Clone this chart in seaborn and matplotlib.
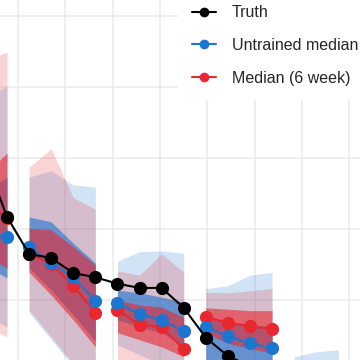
import numpy as np
import pandas as pd
import matplotlib
matplotlib.use("Agg")
import matplotlib.pyplot as plt
from matplotlib.lines import Line2D
import seaborn as sns

# observed values, one per week
truth_week = list(range(-1, 13))
truth = [301, 217, 165, 159, 138, 132, 123, 117, 117, 89, 47, 21, 7, -5]

# forecasts: one run of 4 (or fewer) horizons per group
fc_week = [-1, 0, 1, 2, 3, 4, 5, 6, 7, 8, 9, 10, 11, 12, 13, 14, 15]
fc_group = ['A', 'A', 'B', 'B', 'B', 'B', 'C', 'C', 'C', 'C',
            'D', 'D', 'D', 'D', 'E', 'E', 'E']

blue_median = [195, 189, 175, 152, 132, 99, 96, 80, 72, 56, 62, 49, 39, 32, -30, -35, -40]
blue_lo50 = [149, 131, 145, 114, 79, 42, 72, 62, 54, 34, 9, -1, -13, -20, -60, -65, -70]
blue_hi50 = [255, 272, 217, 210, 180, 152, 114, 110, 104, 97, 75, 69, 65, 63, -13, -15, -18]
blue_lo95 = [79, 62, 82, 44, 6, -31, 37, 23, 9, -6, -40, -50, -60, -70, -100, -110, -120]
blue_hi95 = [385, 401, 273, 282, 262, 259, 155, 168, 169, 166, 116, 120, 135, 139, 20, 27, 30]

red_median = [241, 215, 165, 151, 120, 82, 86, 65, 62, 31, 76, 68, 63, 59, -20, -25, -30]
red_lo50 = [163, 145, 139, 107, 72, 34, 54, 44, 34, 20, 54, 39, 32, 25, -50, -55, -60]
red_hi50 = [276, 307, 201, 199, 175, 149, 100, 93, 90, 76, 89, 87, 85, 85, -5, -8, -10]
red_lo95 = [65, 48, 86, 48, 10, -27, 9, -6, -20, -34, -35, -45, -55, -65, -95, -105, -115]
red_hi95 = [437, 449, 287, 313, 244, 228, 141, 135, 165, 139, 111, 110, 113, 116, 9, 13, 13]

legend_labels = ['Truth', 'Untrained median', 'Median (6 week)']

blue = "#1C75CF"
red = "#E8272F"

sns.set_style("white")
plt.rcParams['font.family'] = ['Liberation Sans', 'DejaVu Sans']

fc = pd.DataFrame(dict(
    week=fc_week, group=fc_group,
    blue_median=blue_median, blue_lo50=blue_lo50, blue_hi50=blue_hi50,
    blue_lo95=blue_lo95, blue_hi95=blue_hi95,
    red_median=red_median, red_lo50=red_lo50, red_hi50=red_hi50,
    red_lo95=red_lo95, red_hi95=red_hi95,
))

fig = plt.figure(figsize=(3.6, 3.6), dpi=100)
ax = fig.add_axes([0, 0, 1, 1])

# interval ribbons, wide ones first
layers = [('blue', '95', blue, 0.2), ('red', '95', red, 0.2),
          ('blue', '50', blue, 0.6), ('red', '50', red, 0.6)]
for model, level, color, alpha in layers:
    for g, d in fc.groupby('group'):
        ax.fill_between(d['week'], d[f'{model}_lo{level}'], d[f'{model}_hi{level}'],
                        color=color, alpha=alpha, linewidth=0)

med = fc.melt(id_vars=['week', 'group'], value_vars=['red_median', 'blue_median'],
              var_name='model', value_name='value')
sns.lineplot(data=med, x='week', y='value', hue='model',
             hue_order=['red_median', 'blue_median'],
             palette={'red_median': red, 'blue_median': blue},
             units='group', estimator=None, marker='o', markersize=9.5,
             markeredgewidth=0, linewidth=1.5, legend=False, ax=ax)

sns.lineplot(x=truth_week, y=truth, color='black', marker='o', markersize=9.5,
             markeredgewidth=0, linewidth=1.5, legend=False, ax=ax)

ax.set_xlim(-0.317, 15.98)
ax.set_ylim(15.5, 522.5)
ax.set_xticks(0.5 + np.arange(8) * 15 / 7)
ax.set_yticks([100, 200, 300, 400, 500])
ax.grid(True, color='#EBEBEB', linewidth=1.1)
ax.set_axisbelow(True)
ax.tick_params(length=0, labelbottom=False, labelleft=False)
ax.set_xlabel('')
ax.set_ylabel('')
for s in ax.spines.values():
    s.set_visible(False)

handles = [Line2D([0], [0], color=c, marker='o', markersize=7, linewidth=1.5,
                  markeredgewidth=0) for c in ['black', blue, red]]
leg = ax.legend(handles, legend_labels, loc='upper left',
                bbox_to_anchor=(178 / 360, 1 + 9 / 360), borderaxespad=0,
                borderpad=0.9, labelspacing=1.1, handlelength=1.45,
                handletextpad=1.0, fontsize=11.5, frameon=True, facecolor='white',
                edgecolor='none', framealpha=1, fancybox=False)
leg.set_zorder(10)

fig.savefig('out.png', dpi=100)
